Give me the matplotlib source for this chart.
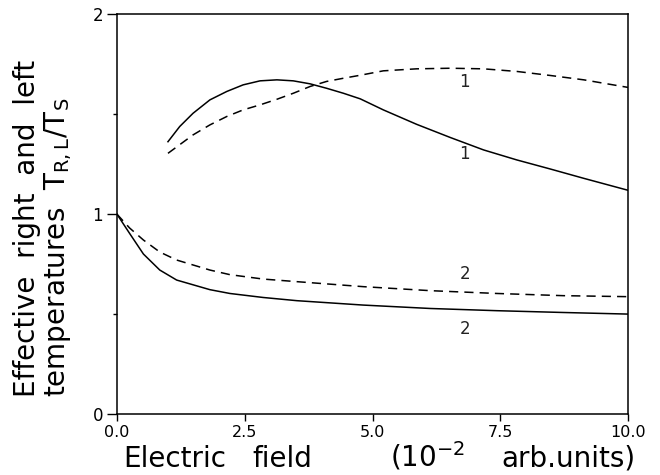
import matplotlib.pyplot as plt

# right (solid) and left (dashed) temperatures, curve 1
x_r1 = [1.0, 1.23, 1.49, 1.82, 2.15, 2.47, 2.80, 3.13, 3.45, 3.78, 4.10, 4.43, 4.76,
        5.21, 5.86, 6.52, 7.17, 7.82, 8.47, 9.13, 10.0]
t_r1 = [1.361, 1.437, 1.503, 1.57, 1.612, 1.645, 1.665, 1.67, 1.665, 1.65, 1.628, 1.603, 1.575,
        1.52, 1.448, 1.382, 1.32, 1.27, 1.225, 1.178, 1.118]
x_l1 = [1.0, 1.49, 1.82, 2.15, 2.47, 2.80, 3.13, 3.45, 3.78, 4.10, 4.43, 4.76,
        5.21, 5.86, 6.52, 7.17, 7.82, 8.47, 9.13, 10.0]
t_l1 = [1.303, 1.395, 1.445, 1.487, 1.52, 1.545, 1.573, 1.603, 1.637, 1.662, 1.678, 1.693,
        1.715, 1.725, 1.728, 1.725, 1.712, 1.692, 1.67, 1.632]

# curve 2
x_r2 = [0.0, 0.25, 0.52, 0.84, 1.17, 1.82, 2.21, 2.86, 3.52, 4.82, 6.13, 7.43, 8.73, 10.0]
t_r2 = [1.0, 0.903, 0.80, 0.72, 0.67, 0.622, 0.603, 0.583, 0.567, 0.545, 0.528, 0.517, 0.508, 0.50]
x_l2 = [0.0, 0.25, 0.52, 0.84, 1.17, 1.82, 2.21, 2.86, 3.52, 4.82, 6.13, 7.43, 8.73, 10.0]
t_l2 = [1.0, 0.93, 0.87, 0.81, 0.77, 0.72, 0.697, 0.675, 0.662, 0.637, 0.617, 0.603, 0.592, 0.587]

xticks = [0.0, 2.5, 5.0, 7.5, 10.0]
xticklabels = ['0.0', '2.5', '5.0', '7.5', '10.0']
yticks = [0, 1, 2]

fig = plt.figure(figsize=(6.6, 4.75), dpi=100)
ax = fig.add_axes([0.177, 0.128, 0.775, 0.843])

dash = (0, (6, 4))
ax.plot(x_r1, t_r1, color='black', lw=1.1)
ax.plot(x_l1, t_l1, color='black', lw=1.1, linestyle=dash)
ax.plot(x_r2, t_r2, color='black', lw=1.1)
ax.plot(x_l2, t_l2, color='black', lw=1.1, linestyle=dash)

# curve numbers
for ty, s in [(1.66, '1'), (1.30, '1'), (0.70, '2'), (0.425, '2')]:
    ax.text(6.8, ty, s, fontsize=12, ha='center', va='center', color='#222222')

ax.set_xlim(0, 10)
ax.set_ylim(0, 2)
ax.set_xticks(xticks, labels=xticklabels)
ax.set_yticks(yticks)
ax.set_yticks([0.5, 1.5], minor=True)
ax.tick_params(axis='x', direction='out', length=5, width=1, labelsize=11.5, pad=2.5)
ax.tick_params(axis='y', direction='out', length=7, width=1, labelsize=12, pad=3)
ax.tick_params(which='minor', direction='out', length=3, width=1)
for sp in ax.spines.values():
    sp.set_linewidth(1.1)

# x label in pieces, spread under the axis
fig.text(0.186, 0.017, 'Electric', fontsize=20, ha='left', va='baseline')
fig.text(0.383, 0.017, 'field', fontsize=20, ha='left', va='baseline')
fig.text(0.591, 0.017, r'($\mathregular{10^{-2}}$', fontsize=20,
         ha='left', va='baseline')
fig.text(0.963, 0.017, 'arb.units)', fontsize=20, ha='right', va='baseline')

fig.text(0.02, 0.164, 'Effective  right  and  left\n'
         r'temperatures  $\mathregular{T_{R,L}/T_S}$',
         fontsize=20, rotation=90, ha='left', va='bottom',
         multialignment='left', linespacing=1.05)

fig.savefig('out.png', dpi=100)
